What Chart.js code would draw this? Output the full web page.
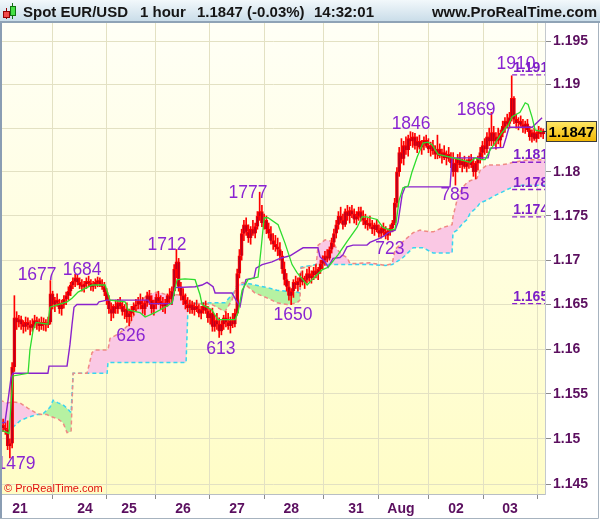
<!DOCTYPE html>
<html>
<head>
<meta charset="utf-8">
<script src="https://cdn.jsdelivr.net/npm/chart.js@4.4.1/dist/chart.umd.min.js"></script>
<style>
  html, body { margin: 0; padding: 0; background: #fff; }
  canvas { display: block; }
</style>
</head>
<body>
<canvas id="chartCanvas" width="600" height="519"></canvas>
<script>
// hourly bars, in pips: 1847 means 1.1847
var opens = [
  1515,1512,1510,1492,1495,1580,1635,1630,1633,1628,
  1625,1630,1627,1624,1628,1632,1629,1626,1630,1628,
  1627,1630,1662,1650,1655,1652,1645,1650,1656,1660,
  1665,1672,1676,1680,1675,1672,1670,1673,1676,1674,
  1670,1672,1675,1677,1673,1670,1664,1655,1645,1640,
  1648,1645,1652,1648,1642,1645,1636,1640,1644,1648,
  1650,1654,1650,1645,1652,1660,1655,1645,1650,1658,
  1654,1650,1648,1652,1660,1656,1665,1690,1698,1670,
  1660,1655,1650,1646,1650,1644,1648,1645,1640,1644,
  1648,1643,1635,1640,1625,1632,1628,1620,1628,1635,
  1630,1626,1632,1628,1640,1685,1705,1730,1740,1732,
  1725,1735,1730,1738,1750,1755,1742,1745,1735,1730,
  1722,1718,1715,1712,1705,1690,1678,1670,1660,1665,
  1675,1672,1676,1680,1675,1678,1685,1680,1683,1688,
  1684,1690,1696,1700,1705,1702,1712,1720,1730,1740,
  1750,1745,1740,1755,1750,1756,1752,1746,1750,1755,
  1748,1745,1740,1742,1738,1735,1740,1734,1730,1736,
  1732,1728,1733,1736,1742,1765,1800,1822,1815,1830,
  1825,1838,1835,1840,1830,1835,1828,1832,1836,1830,
  1826,1830,1824,1820,1826,1818,1822,1816,1820,1815,
  1810,1800,1810,1815,1808,1812,1806,1810,1814,1808,
  1800,1810,1815,1822,1830,1826,1840,1835,1845,1835,
  1840,1836,1844,1852,1858,1855,1862,1884,1860,1856,
  1858,1854,1850,1855,1848,1840,1845,1838,1844,1846,
  1843
];
var highs = [
  1522,1518,1520,1500,1585,1660,1642,1638,1637,1632,
  1636,1635,1632,1634,1638,1636,1634,1636,1635,1633,
  1636,1677,1665,1658,1662,1656,1655,1660,1664,1670,
  1675,1680,1684,1684,1680,1678,1676,1680,1682,1678,
  1676,1679,1681,1680,1678,1675,1668,1660,1652,1650,
  1655,1656,1658,1654,1650,1652,1645,1648,1652,1656,
  1658,1662,1658,1655,1664,1666,1660,1655,1662,1665,
  1660,1658,1656,1662,1668,1670,1695,1712,1702,1675,
  1668,1662,1658,1655,1654,1652,1655,1650,1648,1652,
  1654,1648,1645,1646,1638,1640,1635,1632,1638,1642,
  1640,1636,1640,1645,1690,1712,1735,1745,1748,1740,
  1738,1745,1742,1755,1777,1762,1752,1750,1742,1738,
  1730,1728,1725,1720,1710,1698,1685,1676,1668,1678,
  1682,1680,1685,1688,1682,1690,1692,1688,1692,1695,
  1692,1700,1705,1710,1712,1715,1725,1735,1745,1755,
  1760,1752,1758,1762,1760,1762,1758,1755,1760,1760,
  1756,1752,1748,1750,1745,1742,1746,1740,1738,1742,
  1738,1735,1740,1745,1770,1805,1828,1838,1835,1840,
  1842,1846,1845,1844,1840,1842,1836,1840,1842,1838,
  1834,1836,1830,1842,1832,1826,1830,1824,1828,1822,
  1822,1815,1820,1822,1815,1818,1814,1818,1820,1816,
  1812,1818,1828,1835,1838,1845,1850,1868,1852,1845,
  1850,1848,1858,1862,1866,1868,1910,1886,1866,1862,
  1864,1860,1858,1860,1852,1848,1850,1846,1852,1850,
  1849
];
var lows = [
  1508,1505,1488,1479,1490,1575,1622,1625,1622,1618,
  1620,1622,1616,1620,1624,1622,1620,1622,1621,1620,
  1624,1628,1645,1642,1648,1640,1638,1646,1650,1655,
  1660,1668,1670,1672,1668,1665,1664,1668,1670,1666,
  1665,1668,1670,1670,1667,1660,1650,1640,1632,1635,
  1640,1640,1645,1638,1634,1630,1626,1632,1638,1642,
  1645,1645,1640,1638,1648,1650,1640,1638,1645,1650,
  1645,1642,1640,1648,1652,1650,1660,1680,1665,1655,
  1650,1645,1642,1640,1640,1638,1642,1636,1634,1640,
  1640,1630,1628,1620,1620,1622,1613,1616,1622,1625,
  1622,1618,1624,1625,1638,1680,1700,1722,1728,1720,
  1718,1728,1725,1735,1745,1738,1735,1730,1725,1718,
  1712,1710,1705,1700,1685,1672,1665,1655,1650,1658,
  1668,1665,1670,1672,1668,1674,1676,1674,1678,1680,
  1678,1685,1690,1694,1698,1700,1708,1715,1725,1735,
  1742,1735,1738,1745,1742,1748,1742,1740,1745,1744,
  1740,1736,1734,1736,1730,1728,1732,1726,1725,1728,
  1724,1723,1728,1732,1740,1760,1795,1810,1808,1820,
  1818,1830,1828,1826,1822,1826,1820,1825,1828,1822,
  1818,1820,1815,1815,1816,1810,1814,1808,1812,1805,
  1795,1785,1800,1805,1800,1804,1800,1804,1805,1795,
  1792,1802,1810,1815,1820,1822,1830,1830,1830,1826,
  1832,1828,1840,1845,1850,1850,1858,1855,1850,1848,
  1852,1845,1844,1846,1836,1834,1836,1834,1838,1840,
  1838
];
var closes = [
  1512,1510,1492,1495,1580,1635,1630,1633,1628,1625,
  1630,1627,1624,1628,1632,1629,1626,1630,1628,1627,
  1630,1662,1650,1655,1652,1645,1650,1656,1660,1665,
  1672,1676,1680,1675,1672,1670,1673,1676,1674,1670,
  1672,1675,1677,1673,1670,1664,1655,1645,1640,1648,
  1645,1652,1648,1642,1645,1636,1640,1644,1648,1650,
  1654,1650,1645,1652,1660,1655,1645,1650,1658,1654,
  1650,1648,1652,1660,1656,1665,1690,1698,1670,1660,
  1655,1650,1646,1650,1644,1648,1645,1640,1644,1648,
  1643,1635,1640,1625,1632,1628,1620,1628,1635,1630,
  1626,1632,1628,1640,1685,1705,1730,1740,1732,1725,
  1735,1730,1738,1750,1755,1742,1745,1735,1730,1722,
  1718,1715,1712,1705,1690,1678,1670,1660,1665,1675,
  1672,1676,1680,1675,1678,1685,1680,1683,1688,1684,
  1690,1696,1700,1705,1702,1712,1720,1730,1740,1750,
  1745,1740,1755,1750,1756,1752,1746,1750,1755,1748,
  1745,1740,1742,1738,1735,1740,1734,1730,1736,1732,
  1728,1733,1736,1742,1765,1800,1822,1815,1830,1825,
  1838,1835,1840,1830,1835,1828,1832,1836,1830,1826,
  1830,1824,1820,1826,1818,1822,1816,1820,1815,1810,
  1800,1810,1815,1808,1812,1806,1810,1814,1808,1800,
  1810,1815,1822,1830,1826,1840,1835,1845,1835,1840,
  1836,1844,1852,1858,1855,1862,1884,1860,1856,1858,
  1854,1850,1855,1848,1840,1845,1838,1844,1846,1843,
  1847
];

// day separators (bar index) and their labels
var dayLabels = ['21', '24', '25', '26', '27', '28', '31', 'Aug', '02', '03'];
var dayBars = [7.5, 36.4, 55.9, 79.9, 103.9, 128.0, 156.8, 176.8, 201.3, 225.3];

var yTicks = [1.145, 1.15, 1.155, 1.16, 1.165, 1.17, 1.175, 1.18, 1.185, 1.19, 1.195];
var yTickLabels = ['1.145', '1.15', '1.155', '1.16', '1.165', '1.17', '1.175', '1.18', '1.185', '1.19', '1.195'];

// ichimoku lines: bar index + pips
var tenkanBars = [-1.4,0.8,2.6,3.5,4.4,11.1,11.9,13.3,14.6,19.9,20.8,28.4,30.6,33.3,39.5,45.3,47.5,54.2,55.5,60.8,
  63.1,67.5,71.9,75.1,77.3,80.8,85.3,87.5,88.4,92.8,94.2,95.5,103.1,104.4,106.2,108.8,113.3,114.6,116.0,117.7,
  122.2,125.3,128.4,130.6,135.1,137.3,141.7,144.4,148.8,152.8,157.3,159.5,161.7,166.2,168.8,172.0,174.2,176.0,177.7,180.0,
  181.7,184.0,186.6,188.8,190.6,193.3,198.6,203.1,207.5,209.7,212.0,214.2,216.4,218.6,221.7,224.4,226.2,229.7,232.0,233.3,
  235.1,236.4,239.5];
var tenkan = [1510,1508,1506,1538,1570,1573,1599,1621,1630,1628,1647,1653,1657,1664,1672,1672,1655,1653,1644,1641,
  1636,1641,1647,1652,1678,1679,1678,1661,1650,1644,1638,1633,1633,1641,1666,1678,1681,1712,1748,1748,
  1740,1719,1695,1686,1672,1678,1689,1692,1706,1721,1737,1749,1749,1746,1737,1734,1735,1768,1782,1784,
  1800,1817,1833,1834,1831,1820,1817,1814,1811,1816,1814,1814,1825,1833,1845,1853,1863,1868,1879,1877,
  1862,1848,1846];

var kijunBars = [-1.4,0.8,2.2,3.5,4.4,19.9,20.4,28.4,29.7,30.6,31.5,32.8,41.7,42.6,46.2,64.4,65.3,75.1,76.4,85.3,
  88.4,90.6,93.3,94.2,101.7,103.5,105.3,106.6,107.9,111.5,112.4,115.1,119.5,123.0,127.5,131.9,133.3,139.9,140.8,143.1,
  144.4,146.6,149.7,151.0,152.8,155.5,161.7,163.0,167.5,169.7,171.0,174.2,175.5,177.3,178.6,198.6,199.5,215.5,216.4,222.2,
  223.5,224.8,235.1,239.5];
var kijun = [1518,1518,1543,1568,1573,1573,1581,1581,1605,1627,1647,1650,1650,1653,1655,1655,1651,1651,1669,1670,
  1672,1675,1670,1663,1663,1655,1648,1666,1678,1680,1691,1695,1698,1702,1705,1712,1714,1714,1704,1698,
  1692,1702,1703,1706,1715,1717,1717,1720,1725,1728,1731,1734,1743,1774,1783,1783,1816,1816,1827,1828,
  1839,1851,1851,1862];

var cloudBars = [-1.4,1.7,4.4,7.5,11.1,15.1,17.3,19.5,20.8,22.2,24.4,26.6,28.4,30.2,31.1,37.3,39.5,40.8,46.2,46.6,
  47.5,51.9,56.4,60.8,64.0,68.4,72.8,77.3,81.3,82.2,92.8,98.6,101.7,103.9,106.6,108.4,111.9,117.7,121.7,126.2,
  130.6,131.9,132.4,139.1,140.0,143.1,146.6,148.4,150.6,152.8,154.2,163.1,169.8,172.9,174.2,177.7,182.2,185.3,186.6,191.1,
  195.5,199.5,199.9,201.7,203.1,204.4,206.2,207.5,210.6,212.0,215.1,217.7,220.8,224.0,226.6,231.1,234.2,240.8];
var spanA = [1543,1540,1541,1540,1534,1528,1527,1527,1525,1524,1522,1518,1507,1508,1573,1573,1596,1599,1599,1599,
  1612,1618,1629,1652,1661,1664,1661,1661,1660,1652,1650,1642,1655,1672,1675,1671,1663,1657,1652,1650,
  1652,1655,1691,1694,1717,1723,1721,1712,1706,1703,1696,1697,1694,1696,1712,1721,1731,1734,1733,1732,
  1737,1740,1749,1768,1777,1783,1788,1790,1793,1802,1808,1808,1808,1809,1811,1813,1814,1814];
var spanB = [1510,1508,1513,1520,1524,1527,1527,1532,1535,1543,1540,1538,1534,1529,1573,1573,1573,1573,1573,1585,
  1585,1585,1585,1585,1585,1585,1585,1585,1585,1651,1652,1652,1661,1669,1673,1674,1672,1669,1666,1665,
  1664,1663,1692,1695,1695,1695,1695,1695,1695,1695,1695,1695,1694,1695,1697,1703,1714,1714,1714,1708,
  1708,1708,1731,1734,1738,1742,1746,1753,1760,1765,1768,1772,1776,1780,1783,1785,1785,1785];

// high / low notes
var noteText = ['1479', '1677', '1684', '1712', '626', '613', '1777', '1650', '723', '1846', '785', '1869', '1910'];
var noteBars = [5.7, 15.1, 35.1, 72.8, 56.8, 96.8, 108.8, 128.8, 171.9, 181.3, 200.8, 210.2, 227.9];
var notePips = [1472, 1683, 1689, 1717, 1615, 1600, 1776, 1638, 1712, 1855, 1774, 1871, 1923];

// horizontal levels at the right
var levelText = ['1.191', '1.181', '1.178', '1.174', '1.165'];
var levelPips = [1911, 1811, 1780, 1749, 1651];
var levelStart = 226.2;
var lastPrice = 1847;

var xMin = -0.5, xMax = 240.8;

function price(p) { return 1 + p / 10000; }
function pts(xs, ys) { return xs.map(function (x, i) { return { x: x, y: price(ys[i]) }; }); }

var wicks = highs.map(function (h, i) { return { x: i, y: [price(lows[i]), price(h)] }; });
var bodies = opens.map(function (o, i) {
  var a = price(o), b = price(closes[i]);
  if (a === b) b = a + 0.00003;
  return { x: i, y: [Math.min(a, b), Math.max(a, b)] };
});

var purple = '#8a22cc';
var axisText = '#5b0f5f';
var font = '"Liberation Sans", Arial, sans-serif';

var datasets = [
  { type: 'line', data: pts(tenkanBars, tenkan), borderColor: '#2edc2e', borderWidth: 1.3,
    pointRadius: 0, tension: 0, fill: false, order: 0 },
  { type: 'line', data: pts(kijunBars, kijun), borderColor: purple, borderWidth: 1.4,
    pointRadius: 0, tension: 0, fill: false, order: 1 }
];
levelPips.forEach(function (p) {
  datasets.push({ type: 'line', data: [{ x: levelStart, y: price(p) }, { x: xMax, y: price(p) }],
    borderColor: purple, borderWidth: 1.4, borderDash: [5, 3], pointRadius: 0, fill: false, order: 0 });
});
datasets.push(
  { type: 'bar', data: wicks, backgroundColor: '#ff0000', barThickness: 1, grouped: false, order: 3 },
  { type: 'bar', data: bodies, backgroundColor: '#b8001e', borderColor: '#ff0000', borderWidth: 1,
    barThickness: 3, grouped: false, order: 2 }
);
var spanBIndex = datasets.length;
datasets.push(
  { type: 'line', data: pts(cloudBars, spanB), borderColor: '#38d4f0', borderWidth: 1.5, borderDash: [4, 3],
    pointRadius: 0, tension: 0, fill: false, order: 5 },
  { type: 'line', data: pts(cloudBars, spanA), borderColor: '#f08a84', borderWidth: 1.5, borderDash: [4, 3],
    pointRadius: 0, tension: 0, order: 4,
    fill: { target: spanBIndex, above: '#fac8e4', below: '#b6f2a2' } }
);

var decor = {
  id: 'decor',
  beforeDraw: function (chart) {
    var ctx = chart.ctx, a = chart.chartArea;
    ctx.save();
    ctx.fillStyle = '#ffffff';
    ctx.fillRect(0, 0, chart.width, chart.height);
    var g = ctx.createLinearGradient(0, a.top, 0, a.bottom);
    g.addColorStop(0, '#fffff6');
    g.addColorStop(1, '#fffdc6');
    ctx.fillStyle = g;
    ctx.fillRect(a.left, a.top, a.right - a.left, a.bottom - a.top);
    ctx.restore();
  },
  afterDatasetsDraw: function (chart) {
    var ctx = chart.ctx, a = chart.chartArea, x = chart.scales.x, y = chart.scales.y;
    ctx.save();
    ctx.beginPath();
    ctx.rect(a.left, a.top, a.right - a.left, a.bottom - a.top);
    ctx.clip();
    ctx.fillStyle = '#8a24d2';
    ctx.font = '17.5px ' + font;
    ctx.textAlign = 'center';
    ctx.textBaseline = 'middle';
    noteText.forEach(function (t, i) {
      ctx.fillText(t, x.getPixelForValue(noteBars[i]), y.getPixelForValue(price(notePips[i])));
    });
    ctx.fillStyle = '#7d1fc8';
    ctx.font = 'bold 14px ' + font;
    ctx.textAlign = 'left';
    ctx.textBaseline = 'alphabetic';
    levelText.forEach(function (t, i) {
      ctx.fillText(t, x.getPixelForValue(levelStart) + 1, y.getPixelForValue(price(levelPips[i])) - 3);
    });
    ctx.fillStyle = '#e01010';
    ctx.font = '11px ' + font;
    ctx.fillText('\u00a9 ProRealTime.com', 4, 492);
    ctx.restore();
  },
  afterDraw: function (chart) {
    var ctx = chart.ctx, y = chart.scales.y;
    ctx.save();
    // header bar
    var g = ctx.createLinearGradient(0, 0, 0, 21);
    g.addColorStop(0, '#f2f8fb');
    g.addColorStop(1, '#cadde9');
    ctx.fillStyle = g;
    ctx.fillRect(0, 0, 600, 21);
    ctx.fillStyle = '#8fa3b6';
    ctx.fillRect(0, 21, 600, 2);
    // small candle icon
    ctx.strokeStyle = '#900000';
    ctx.lineWidth = 1;
    ctx.beginPath(); ctx.moveTo(6.5, 8); ctx.lineTo(6.5, 19); ctx.stroke();
    ctx.fillStyle = '#f04848';
    ctx.fillRect(3.5, 11.5, 6, 6); ctx.strokeRect(3.5, 11.5, 6, 6);
    ctx.strokeStyle = '#107010';
    ctx.beginPath(); ctx.moveTo(12.5, 3); ctx.lineTo(12.5, 19); ctx.stroke();
    ctx.fillStyle = '#44e044';
    ctx.fillRect(10.5, 6.5, 5, 9); ctx.strokeRect(10.5, 6.5, 5, 9);
    ctx.fillStyle = '#151515';
    ctx.font = 'bold 15px ' + font;
    ctx.textBaseline = 'alphabetic';
    ctx.textAlign = 'left';
    ctx.fillText('Spot EUR/USD', 23, 17);
    ctx.fillText('1 hour', 140, 17);
    ctx.fillText('1.1847 (-0.03%)', 197, 17);
    ctx.fillText('14:32:01', 314, 17);
    ctx.textAlign = 'right';
    ctx.fillText('www.ProRealTime.com', 597, 17);
    // frame
    ctx.fillStyle = '#8a9db3';
    ctx.fillRect(0, 23, 2, 496);
    ctx.strokeStyle = '#a7b3bf';
    ctx.beginPath();
    ctx.moveTo(598.5, 23); ctx.lineTo(598.5, 518.5); ctx.lineTo(0, 518.5);
    ctx.stroke();
    // last price box
    var py = Math.round(y.getPixelForValue(price(lastPrice))) + 0.5;
    var bg = ctx.createLinearGradient(0, py - 10, 0, py + 10);
    bg.addColorStop(0, '#ffe866');
    bg.addColorStop(1, '#f2b600');
    ctx.fillStyle = bg;
    ctx.fillRect(546.5, py - 10, 50, 20);
    ctx.strokeStyle = '#3a3a3a';
    ctx.strokeRect(546.5, py - 10, 50, 20);
    ctx.beginPath(); ctx.moveTo(543, py); ctx.lineTo(546.5, py); ctx.stroke();
    ctx.fillStyle = '#000';
    ctx.font = 'bold 15px ' + font;
    ctx.textAlign = 'center';
    ctx.textBaseline = 'middle';
    ctx.fillText('1.1847', 571.5, py + 1);
    ctx.restore();
  }
};

var ctx = document.getElementById('chartCanvas').getContext('2d');
var chart = new Chart(ctx, {
  type: 'bar',
  data: { datasets: datasets },
  options: {
    responsive: false,
    animation: false,
    devicePixelRatio: 1,
    events: [],
    layout: { padding: { left: 2, top: 23, right: 0, bottom: 0 } },
    plugins: {
      legend: { display: false },
      tooltip: { enabled: false },
      filler: { drawTime: 'beforeDatasetsDraw' }
    },
    scales: {
      x: {
        type: 'linear',
        min: xMin,
        max: xMax,
        offset: false,
        afterBuildTicks: function (s) { s.ticks = dayBars.map(function (v) { return { value: v }; }); },
        afterFit: function (s) { s.height = 25; },
        ticks: {
          autoSkip: false, maxRotation: 0, padding: 2, color: axisText,
          font: { family: font, size: 14, weight: 'bold' },
          callback: function (v, i) { return dayLabels[i]; }
        },
        grid: { color: '#e3e1c3', tickColor: '#8c8c8c', tickLength: 5 },
        border: { display: true, color: '#b8bec4' }
      },
      y: {
        type: 'logarithmic',
        position: 'right',
        min: 1.14390,
        max: 1.19708,
        afterBuildTicks: function (s) { s.ticks = yTicks.map(function (v) { return { value: v }; }); },
        afterFit: function (s) { s.width = 55; },
        ticks: {
          padding: 2, color: axisText,
          font: { family: font, size: 14, weight: 'bold' },
          callback: function (v, i) { return yTickLabels[i]; }
        },
        grid: { color: '#e3e1c3', tickColor: '#8c8c8c', tickLength: 6 },
        border: { display: true, color: '#c4c9ce' }
      }
    }
  },
  plugins: [decor]
});
</script>
</body>
</html>
